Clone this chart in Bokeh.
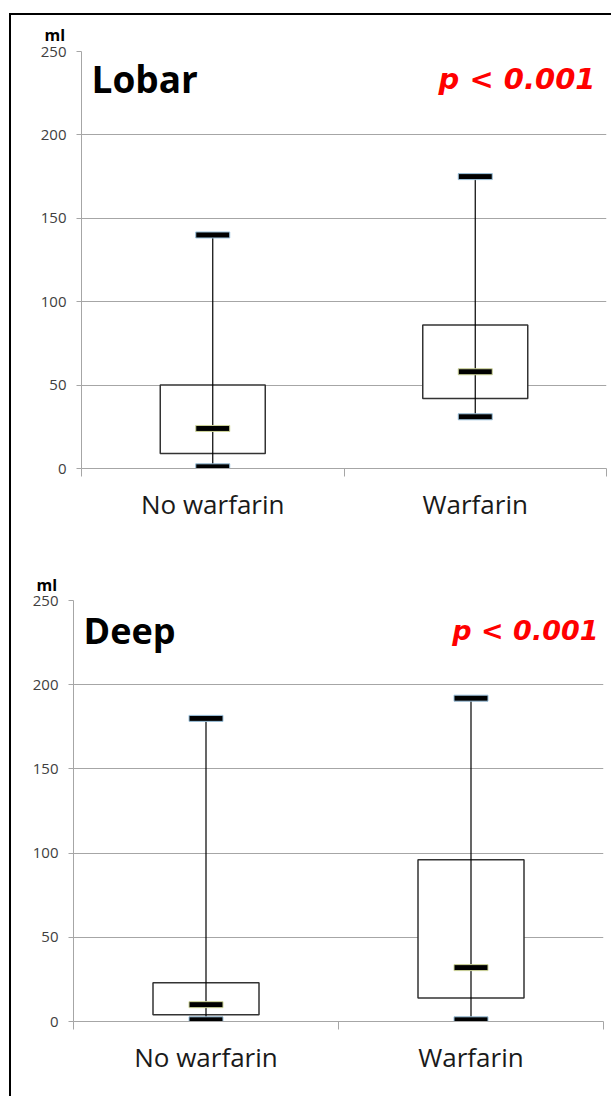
from bokeh.plotting import figure
from bokeh.models import (Range1d, LinearAxis, FixedTicker, Label, ColumnDataSource)
from bokeh.layouts import column
from bokeh.embed import file_html
from bokeh.resources import INLINE

# ---------------- data ----------------
cats = ["No warfarin", "Warfarin"]
y_ticks = [0, 50, 100, 150, 200, 250]

lobar_low = [1, 31]
lobar_q1 = [9, 42]
lobar_med = [24, 58]
lobar_q3 = [50, 86]
lobar_high = [140, 175]

deep_low = [1, 1]
deep_q1 = [4, 14]
deep_med = [10, 32]
deep_q3 = [23, 96]
deep_high = [180, 192]

panel_titles = ["Lobar", "Deep"]
p_text = "p < 0.001"
unit_text = "ml"

FONT = "Open Sans"

# category slots: each category occupies one unit on the x scale
cat_pos = [i + 0.5 for i in range(len(cats))]
cat_bounds = [float(i) for i in range(len(cats) + 1)]


def make_panel(title, low, q1, med, q3, high, height, mb_left, mb_right,
               mb_top, mb_bottom, title_dx, title_dy, title_size,
               p_dx, p_dy, p_size, ml_standoff):
    src = ColumnDataSource(dict(x=cat_pos, low=low, q1=q1, med=med, q3=q3, high=high))
    p = figure(x_range=Range1d(0, len(cats)), y_range=Range1d(0, 250),
               width=600, height=height, x_axis_location=None,
               output_backend="svg", toolbar_location=None,
               min_border_left=mb_left, min_border_right=mb_right,
               min_border_top=mb_top, min_border_bottom=mb_bottom)
    p.outline_line_color = None
    p.background_fill_color = "white"
    p.border_fill_color = "white"
    p.xgrid.visible = False
    p.ygrid.ticker = FixedTicker(ticks=y_ticks)
    p.ygrid.grid_line_color = "#a6a6a6"
    p.ygrid.grid_line_width = 1

    # unit label above the y axis
    p.title.text = unit_text
    p.title.align = "left"
    p.title.offset = -37
    p.title.standoff = ml_standoff
    p.title.text_font = FONT
    p.title.text_font_size = "16px"
    p.title.text_font_style = "bold"
    p.title.text_color = "black"

    ya = p.yaxis[0]
    ya.ticker = FixedTicker(ticks=y_ticks)
    ya.axis_line_color = "#a6a6a6"
    ya.major_tick_line_color = "#a6a6a6"
    ya.major_tick_in = 0
    ya.major_tick_out = 5
    ya.minor_tick_line_color = None
    ya.major_label_text_font = FONT
    ya.major_label_text_font_size = "15px"
    ya.major_label_text_color = "#404040"
    ya.major_label_standoff = 10

    # boundary ticks axis (ticks between categories)
    ta = LinearAxis(ticker=FixedTicker(ticks=cat_bounds))
    ta.axis_line_color = "#a6a6a6"
    ta.major_tick_line_color = "#a6a6a6"
    ta.major_tick_in = 0
    ta.major_tick_out = 8
    ta.minor_tick_line_color = None
    ta.major_label_text_font_size = "1px"
    ta.major_label_text_alpha = 0
    ta.major_label_standoff = 0
    p.add_layout(ta, "below")

    # category label axis
    ca = LinearAxis(ticker=FixedTicker(ticks=cat_pos),
                    major_label_overrides={pos: c for pos, c in zip(cat_pos, cats)})
    ca.axis_line_color = None
    ca.major_tick_line_color = None
    ca.minor_tick_line_color = None
    ca.major_label_text_font = FONT
    ca.major_label_text_font_size = "26px"
    ca.major_label_text_color = "#1a1a1a"
    ca.major_label_standoff = 3
    p.add_layout(ca, "below")

    # boxes
    p.vbar(x="x", bottom="q1", top="q3", width=0.4, source=src,
           fill_color="white", line_color="#333333", line_width=1.5)
    # whiskers
    p.segment(x0="x", y0="low", x1="x", y1="high", source=src,
              line_color="black", line_width=1.2)
    # caps
    for col in ("low", "high"):
        p.rect(x="x", y=col, width=34, height=6, width_units="screen",
               height_units="screen", source=src, fill_color="black",
               line_color="#9cc3de", line_width=1)
    p.rect(x="x", y="med", width=34, height=6, width_units="screen",
           height_units="screen", source=src, fill_color="black",
           line_color="#cfd69a", line_width=1)

    # texts
    fh = height - mb_top - mb_bottom
    p.add_layout(Label(x=title_dx, y=fh - title_dy, x_units="screen", y_units="screen",
                       text=title, text_font=FONT, text_font_style="bold",
                       text_font_size=title_size, text_color="black",
                       text_baseline="alphabetic", text_align="left"))
    fw = 600 - mb_left - mb_right
    p.add_layout(Label(x=fw + p_dx, y=fh - p_dy, x_units="screen", y_units="screen",
                       text=p_text, text_font="DejaVu Sans",
                       text_font_style="bold italic", text_font_size=p_size,
                       text_color="#ff0000", text_baseline="alphabetic",
                       text_align="right"))
    return p


p1 = make_panel(panel_titles[0], lobar_low, lobar_q1, lobar_med, lobar_q3, lobar_high,
                height=530, mb_left=70, mb_right=5, mb_top=36, mb_bottom=77,
                title_dx=10, title_dy=27, title_size="37px",
                p_dx=-11, p_dy=27, p_size="29px", ml_standoff=12)
p2 = make_panel(panel_titles[1], deep_low, deep_q1, deep_med, deep_q3, deep_high,
                height=551, mb_left=62, mb_right=8, mb_top=55, mb_bottom=75,
                title_dx=10, title_dy=30, title_size="36px",
                p_dx=-5, p_dy=30, p_size="27px", ml_standoff=10)

layout = column(column(p1), column(p2), spacing=0,
                styles={"margin-left": "9px", "margin-top": "13px",
                        "border-left": "2px solid black",
                        "border-top": "2px solid black",
                        "background-color": "white"})

open("out.html", "w").write(file_html(layout, INLINE))
